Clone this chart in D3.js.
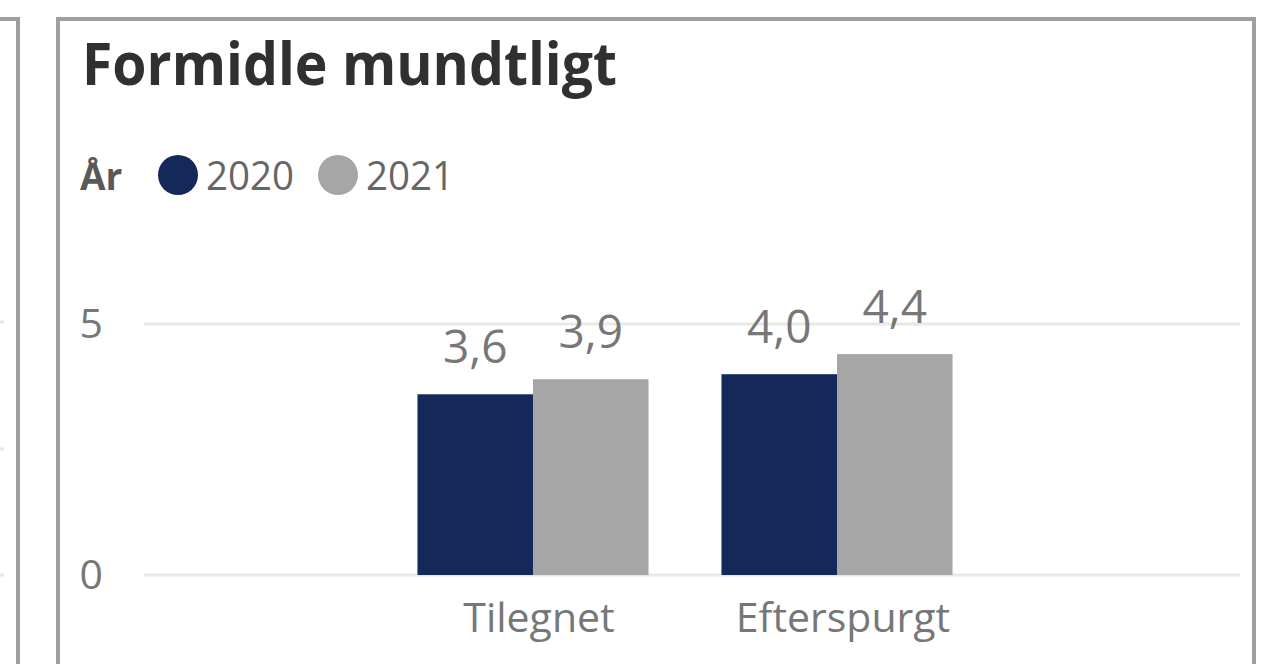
<!DOCTYPE html>
<html>
<head>
    <title>Formidle mundtligt</title>
    <style type="text/css">
      body { margin: 0; background: #fff; }
      svg text { font-family: 'Open Sans', 'Noto Sans', sans-serif; }
    </style>
</head>
<body>
  <div id="chart"></div>

  <script type="text/javascript" src="https://cdnjs.cloudflare.com/ajax/libs/d3/7.8.5/d3.min.js"></script>
  <script type="text/javascript">
  // data
  var categories = ['Tilegnet', 'Efterspurgt'];
  var years = ['2020', '2021'];
  var values2020 = [3.6, 4.0];
  var values2021 = [3.9, 4.4];
  var yTicks = [0, 5];
  var colors = ['#14285a', '#a6a6a6'];

  var cfg = {
    w: 1271,
    h: 664,
    top: 324,
    bottom: 575,
    gridLeft: 144,
    gridRight: 1240
  }

  var rows = categories.map(function(c, i) {
    return { cat: c, vals: [values2020[i], values2021[i]] }
  })

  var svg = d3.select('#chart').append('svg')
    .attr('width', cfg.w)
    .attr('height', cfg.h)

  // neighbour panel on the left (cut off)
  svg.append('rect')
    .attr('x', -200).attr('y', 19)
    .attr('width', 218).attr('height', 800)
    .attr('fill', 'none')
    .attr('stroke', '#9e9e9e')
    .attr('stroke-width', 4)

  svg.selectAll('rect.stub')
    .data([322, 449, 575])
    .enter()
    .append('rect')
    .classed('stub', true)
    .attr('x', 0).attr('y', function(d) { return d - 1.5 })
    .attr('width', 4).attr('height', 3)
    .attr('fill', '#e8e8e8')

  // main panel
  svg.append('rect')
    .attr('x', 58).attr('y', 19)
    .attr('width', 1196).attr('height', 800)
    .attr('fill', 'none')
    .attr('stroke', '#9e9e9e')
    .attr('stroke-width', 4)

  svg.append('text')
    .attr('x', 82).attr('y', 85)
    .attr('font-size', 59)
    .attr('font-weight', 700)
    .attr('fill', '#303030')
    .attr('textLength', 535)
    .attr('lengthAdjust', 'spacingAndGlyphs')
    .text('Formidle mundtligt')

  // legend
  svg.append('text')
    .attr('x', 80).attr('y', 190)
    .attr('font-size', 37)
    .attr('font-weight', 700)
    .attr('fill', '#595959')
    .text('År')

  var legendX = [178, 338];
  var leg = svg.selectAll('g.leg')
    .data(years)
    .enter()
    .append('g')
    .classed('leg', true)
    .attr('transform', function(d, i) { return 'translate(' + legendX[i] + ', 175)' })

  leg.append('circle')
    .attr('r', 20)
    .attr('fill', function(d, i) { return colors[i] })

  leg.append('text')
    .attr('x', 28).attr('y', 15)
    .attr('font-size', 41)
    .attr('fill', '#666')
    .attr('textLength', 88)
    .attr('lengthAdjust', 'spacingAndGlyphs')
    .text(function(d) { return d })

  // scales
  var x0 = d3.scaleBand()
    .domain(categories)
    .range([381, 989])
    .paddingInner(0.24)
    .paddingOuter(0.12)

  var x1 = d3.scaleBand()
    .domain(years)
    .range([0, x0.bandwidth()])

  var y = d3.scaleLinear()
    .domain([0, 5])
    .range([cfg.bottom, cfg.top])

  // gridlines
  svg.selectAll('line.grid')
    .data(yTicks)
    .enter()
    .append('line')
    .classed('grid', true)
    .attr('x1', cfg.gridLeft).attr('x2', cfg.gridRight)
    .attr('y1', function(d) { return y(d) })
    .attr('y2', function(d) { return y(d) })
    .attr('stroke', '#e8e8e8')
    .attr('stroke-width', 3)

  svg.selectAll('text.ytick')
    .data(yTicks)
    .enter()
    .append('text')
    .classed('ytick', true)
    .attr('x', 103)
    .attr('y', function(d) { return y(d) + 14 })
    .attr('text-anchor', 'end')
    .attr('font-size', 41)
    .attr('fill', '#777')
    .text(function(d) { return d })

  // bars
  var groups = svg.selectAll('g.group')
    .data(rows)
    .enter()
    .append('g')
    .classed('group', true)
    .attr('transform', function(d) { return 'translate(' + x0(d.cat) + ', 0)' })

  var bars = groups.selectAll('g.bar')
    .data(function(d) {
      return d.vals.map(function(v, i) { return { year: years[i], v: v, i: i } })
    })
    .enter()
    .append('g')
    .classed('bar', true)

  bars.append('rect')
    .attr('x', function(d) { return x1(d.year) })
    .attr('y', function(d) { return y(d.v) })
    .attr('width', x1.bandwidth())
    .attr('height', function(d) { return y(0) - y(d.v) })
    .attr('fill', function(d) { return colors[d.i] })

  bars.append('text')
    .attr('x', function(d) { return x1(d.year) + x1.bandwidth() / 2 })
    .attr('y', function(d) { return y(d.v) - 31 })
    .attr('text-anchor', 'middle')
    .attr('font-size', 46)
    .attr('fill', '#777')
    .text(function(d) { return d.v.toFixed(1).replace('.', ',') })

  // category axis
  svg.selectAll('text.cat')
    .data(categories)
    .enter()
    .append('text')
    .classed('cat', true)
    .attr('x', function(d) { return x0(d) + x0.bandwidth() / 2 + 6 })
    .attr('y', 632)
    .attr('text-anchor', 'middle')
    .attr('font-size', 41)
    .attr('fill', '#777')
    .text(function(d) { return d })
  </script>
</body>
</html>
